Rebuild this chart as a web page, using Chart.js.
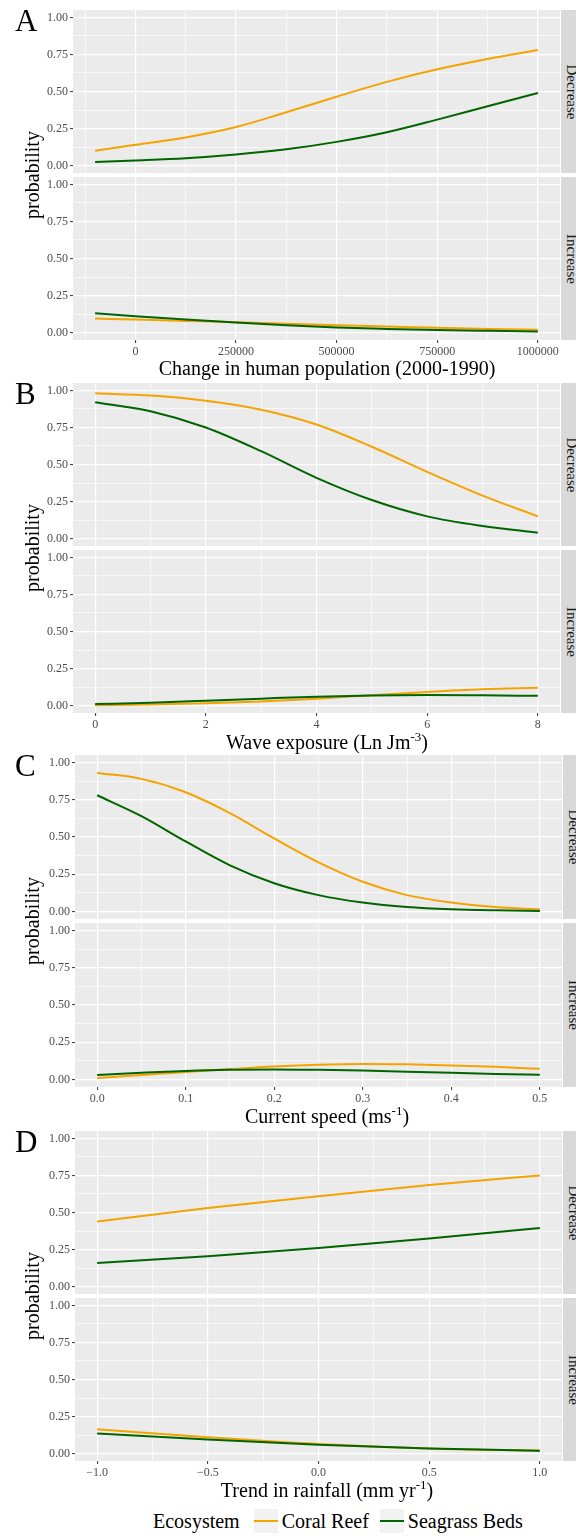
<!DOCTYPE html>
<html>
<head>
<meta charset="utf-8">
<script src="https://cdn.jsdelivr.net/npm/chart.js@4.4.1/dist/chart.umd.min.js"></script>
<style>
  body { margin: 0; background: #fff; width: 576px; height: 1536px; position: relative; overflow: hidden; font-family: 'Liberation Serif', serif; }
  canvas { position: absolute; left: 0; }
  .txt { position: absolute; white-space: nowrap; line-height: 1; color: #000; }
  .strip { position: absolute; background: #D9D9D9; overflow: hidden; }
  #legend { position: absolute; left: 153px; top: 1509px; display: flex; align-items: center; font-size: 20px; line-height: 1; }
  .key { width: 24px; height: 24px; background: #F2F2F2; position: relative; }
  .key i { position: absolute; left: 0; right: 0; top: 11px; height: 2px; }
</style>
</head>
<body>
<div id="legend"></div>
<script>
// shared
const probTicks = [0, 0.25, 0.5, 0.75, 1];
const probMinor = [0.125, 0.375, 0.625, 0.875];
const seriesNames = ['Coral Reef', 'Seagrass Beds'];
const seriesColors = ['#F4A300', '#006400'];
const facetNames = ['Decrease', 'Increase'];

// A - change in human population
const popX = [-100000, 0, 125000, 250000, 375000, 500000, 625000, 750000, 875000, 1000000];
const popCoralDec = [0.10, 0.14, 0.19, 0.26, 0.36, 0.465, 0.565, 0.65, 0.72, 0.78];
const popSeaDec = [0.025, 0.035, 0.05, 0.075, 0.11, 0.16, 0.225, 0.31, 0.40, 0.49];
const popCoralInc = [0.095, 0.088, 0.079, 0.07, 0.06, 0.05, 0.041, 0.032, 0.025, 0.02];
const popSeaInc = [0.13, 0.11, 0.088, 0.068, 0.05, 0.035, 0.025, 0.017, 0.012, 0.008];
const popTicks = [0, 250000, 500000, 750000, 1000000];
const popMinor = [-125000, 125000, 375000, 625000, 875000];

// B - wave exposure
const waveX = [0, 1, 2, 3, 4, 5, 6, 7, 8];
const waveCoralDec = [0.98, 0.965, 0.93, 0.87, 0.77, 0.62, 0.45, 0.29, 0.15];
const waveSeaDec = [0.92, 0.86, 0.75, 0.59, 0.41, 0.26, 0.15, 0.085, 0.04];
const waveCoralInc = [0.003, 0.008, 0.015, 0.028, 0.047, 0.07, 0.092, 0.11, 0.12];
const waveSeaInc = [0.01, 0.02, 0.033, 0.047, 0.06, 0.068, 0.071, 0.069, 0.066];
const waveTicks = [0, 2, 4, 6, 8];
const waveMinor = [1, 3, 5, 7];

// C - current speed
const curX = [0, 0.05, 0.1, 0.15, 0.2, 0.25, 0.3, 0.35, 0.4, 0.45, 0.5];
const curCoralDec = [0.93, 0.89, 0.80, 0.66, 0.49, 0.33, 0.20, 0.11, 0.06, 0.03, 0.015];
const curSeaDec = [0.78, 0.64, 0.47, 0.31, 0.19, 0.11, 0.06, 0.03, 0.015, 0.008, 0.004];
const curCoralInc = [0.01, 0.03, 0.05, 0.07, 0.088, 0.1, 0.105, 0.102, 0.095, 0.085, 0.072];
const curSeaInc = [0.03, 0.045, 0.058, 0.066, 0.068, 0.065, 0.06, 0.053, 0.045, 0.038, 0.032];
const curTicks = [0, 0.1, 0.2, 0.3, 0.4, 0.5];
const curMinor = [0.05, 0.15, 0.25, 0.35, 0.45];

// D - trend in rainfall
const rainX = [-1, -0.5, 0, 0.5, 1];
const rainCoralDec = [0.44, 0.53, 0.61, 0.685, 0.75];
const rainSeaDec = [0.16, 0.205, 0.26, 0.325, 0.395];
const rainCoralInc = [0.165, 0.11, 0.065, 0.035, 0.02];
const rainSeaInc = [0.135, 0.095, 0.06, 0.035, 0.02];
const rainTicks = [-1, -0.5, 0, 0.5, 1];
const rainMinor = [-0.75, -0.25, 0.25, 0.75];

const W = 576;
const panels = [
  { letter: 'A', top: 10, fh: 163, left: 73, right: 560, x: popX, ticks: popTicks, minor: popMinor,
    fmt: v => String(v), title: 'Change in human population (2000-1990)',
    series: [[popCoralDec, popSeaDec], [popCoralInc, popSeaInc]] },
  { letter: 'B', top: 383, fh: 163, left: 73, right: 560, x: waveX, ticks: waveTicks, minor: waveMinor,
    fmt: v => String(v), title: 'Wave exposure (Ln Jm<sup>-3</sup>)',
    series: [[waveCoralDec, waveSeaDec], [waveCoralInc, waveSeaInc]] },
  { letter: 'C', top: 755, fh: 164, left: 75, right: 562, x: curX, ticks: curTicks, minor: curMinor,
    fmt: v => v.toFixed(1), title: 'Current speed (ms<sup>-1</sup>)',
    series: [[curCoralDec, curSeaDec], [curCoralInc, curSeaInc]] },
  { letter: 'D', top: 1131, fh: 163, left: 75, right: 562, x: rainX, ticks: rainTicks, minor: rainMinor,
    fmt: v => (v < 0 ? '\u2212' : '') + Math.abs(v).toFixed(1), title: 'Trend in rainfall (mm yr<sup>-1</sup>)',
    series: [[rainCoralDec, rainSeaDec], [rainCoralInc, rainSeaInc]] }
];

Chart.register({
  id: 'panelBg',
  beforeDraw(ch) {
    const a = ch.chartArea, c = ch.ctx;
    c.save();
    c.fillStyle = '#EBEBEB';
    c.fillRect(a.left, a.top, a.right - a.left, a.bottom - a.top);
    c.restore();
  }
});

const near = (list, v) => list.some(t => Math.abs(t - v) < 1e-9);
const tickFont = { family: 'Liberation Serif', size: 12 };
// stop chart.js from padding the plot for the end labels
const noPad = s => { s.paddingTop = s.paddingBottom = s.paddingLeft = s.paddingRight = 0; };

function addText(html, cx, cy, size, rot) {
  const d = document.createElement('div');
  d.className = 'txt';
  d.innerHTML = html;
  d.style.fontSize = size + 'px';
  d.style.left = cx + 'px';
  d.style.top = cy + 'px';
  d.style.transform = 'translate(-50%,-50%)' + (rot ? ' rotate(' + rot + 'deg)' : '');
  document.body.appendChild(d);
  return d;
}

function makeFacet(p, k, y0, showX) {
  const extra = showX ? 24 : 0;
  const cv = document.createElement('canvas');
  cv.width = W;
  cv.height = p.fh + extra;
  cv.style.top = y0 + 'px';
  document.body.appendChild(cv);

  const lo = Math.min(...p.x), hi = Math.max(...p.x), pad = (hi - lo) * 0.05;
  const xAll = p.ticks.concat(p.minor).sort((a, b) => a - b);
  const yAll = probTicks.concat(probMinor).sort((a, b) => a - b);

  new Chart(cv, {
    type: 'line',
    data: {
      datasets: seriesNames.map((name, i) => ({
        label: name,
        data: p.x.map((x, j) => ({ x: x, y: p.series[k][i][j] })),
        borderColor: seriesColors[i],
        borderWidth: 2,
        pointRadius: 0,
        fill: false,
        cubicInterpolationMode: 'monotone',
        order: i === 0 ? 1 : 0
      }))
    },
    options: {
      responsive: false,
      animation: false,
      events: [],
      layout: { autoPadding: false, padding: { left: 0, right: W - p.right, top: 0, bottom: 0 } },
      plugins: { legend: { display: false }, tooltip: { enabled: false } },
      scales: {
        x: {
          type: 'linear', min: lo - pad, max: hi + pad,
          afterBuildTicks: s => { s.ticks = xAll.map(v => ({ value: v })); },
          afterFit: s => { s.height = extra; noPad(s); },
          border: { display: false },
          grid: {
            color: '#fff',
            lineWidth: c => (c.tick && near(p.ticks, c.tick.value)) ? 1.2 : 0.6,
            drawTicks: showX, tickLength: 3, tickWidth: 1,
            tickColor: c => (c.tick && near(p.ticks, c.tick.value)) ? '#333' : 'rgba(0,0,0,0)'
          },
          ticks: {
            display: showX, autoSkip: false, maxRotation: 0, padding: 2,
            color: '#4D4D4D', font: tickFont,
            callback: v => near(p.ticks, v) ? p.fmt(v) : ''
          }
        },
        y: {
          type: 'linear', min: -0.05, max: 1.05,
          afterBuildTicks: s => { s.ticks = yAll.map(v => ({ value: v })); },
          afterFit: s => { s.width = p.left; noPad(s); },
          border: { display: false },
          grid: {
            color: '#fff',
            lineWidth: c => (c.tick && near(probTicks, c.tick.value)) ? 1.2 : 0.6,
            tickLength: 3, tickWidth: 1,
            tickColor: c => (c.tick && near(probTicks, c.tick.value)) ? '#333' : 'rgba(0,0,0,0)'
          },
          ticks: {
            autoSkip: false, padding: 2, color: '#4D4D4D', font: tickFont,
            callback: v => near(probTicks, v) ? v.toFixed(2) : ''
          }
        }
      }
    }
  });

  // facet strip on the right
  const st = document.createElement('div');
  st.className = 'strip';
  st.style.left = (p.right + 1) + 'px';
  st.style.width = (W - p.right - 1) + 'px';
  st.style.top = y0 + 'px';
  st.style.height = p.fh + 'px';
  document.body.appendChild(st);
  const t = addText(facetNames[k], p.right + 11, y0 + p.fh / 2, 15, 90);
  t.style.color = '#1A1A1A';
}

panels.forEach(p => {
  const gap = 4;
  makeFacet(p, 0, p.top, false);
  makeFacet(p, 1, p.top + p.fh + gap, true);
  const bottom = p.top + 2 * p.fh + gap;
  // panel letter
  const L = document.createElement('div');
  L.className = 'txt';
  L.textContent = p.letter;
  L.style.fontSize = '31px';
  L.style.left = '15px';
  L.style.top = (p.top - 5) + 'px';
  document.body.appendChild(L);
  // axis titles
  addText('probability', 32, (p.top + bottom) / 2, 20, -90);
  const xt = addText(p.title, 327, bottom + 28, 20, 0);
  xt.querySelectorAll('sup').forEach(s => { s.style.fontSize = '65%'; s.style.verticalAlign = '0.6em'; });
});

// legend
const lg = document.getElementById('legend');
lg.innerHTML = '<span style="margin-right:14px">Ecosystem</span>' +
  seriesNames.map((n, i) =>
    '<span class="key"><i style="background:' + seriesColors[i] + '"></i></span>' +
    '<span style="margin:0 11px 0 4px">' + n + '</span>').join('');
</script>
</body>
</html>
